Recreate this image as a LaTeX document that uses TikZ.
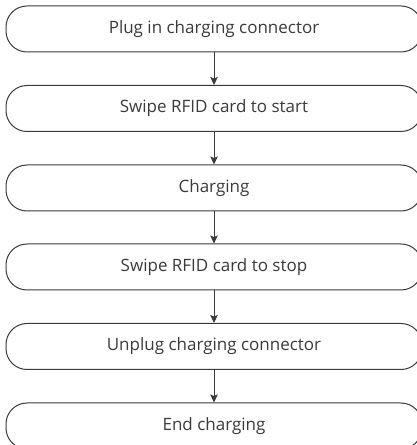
\documentclass[tikz,border=0pt]{standalone}
\usepackage{fontspec}
\setmainfont{Open Sans}
\usetikzlibrary{arrows.meta}
\definecolor{ln}{HTML}{3A3A3A}
\definecolor{tx}{HTML}{3A3A3A}
\begin{document}
\begin{tikzpicture}[x=1pt,y=1pt,
  stepbox/.style={draw=ln, line width=1pt, rounded corners=21pt, minimum width=416pt, minimum height=46pt, inner sep=0pt, text=tx, font=\fontsize{17}{20}\selectfont},
  conn/.style={draw=ln, line width=1pt, -{Stealth[length=8pt,width=7.5pt,inset=1.5pt]}}]
\useasboundingbox (0,0) rectangle (417,445);
\clip (0,0) rectangle (417,445);
\node[stepbox] (a) at (214,416) {Plug in charging connector};
\node[stepbox] (b) at (214,336.5) {Swipe RFID card to start};
\node[stepbox] (c) at (214,257) {Charging};
\node[stepbox] (d) at (214,178) {Swipe RFID card to stop};
\node[stepbox] (e) at (214,98.5) {Unplug charging connector};
\node[stepbox] (f) at (214,19) {End charging};
\draw[conn] (a) -- (b);
\draw[conn] (b) -- (c);
\draw[conn] (c) -- (d);
\draw[conn] (d) -- (e);
\draw[conn] (e) -- (f);
\end{tikzpicture}
\end{document}
